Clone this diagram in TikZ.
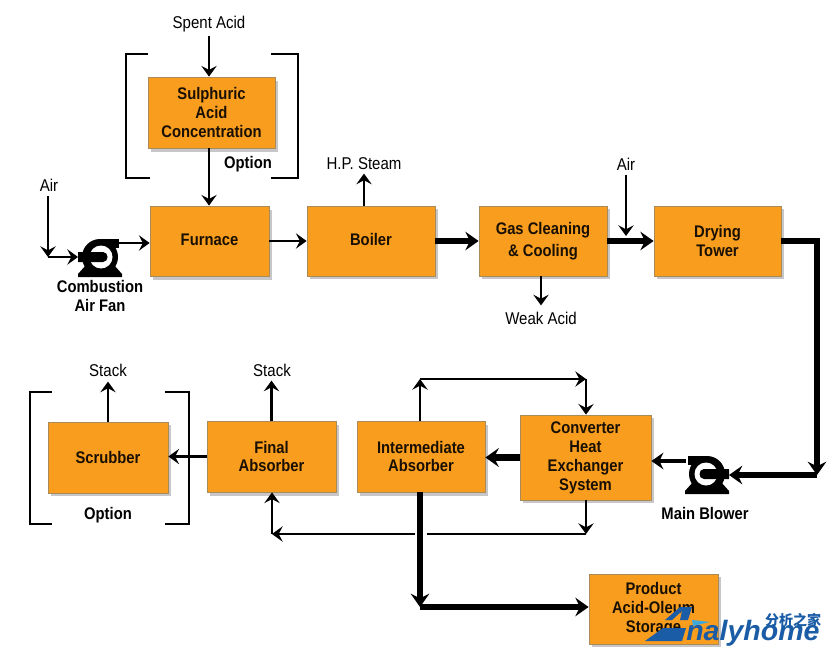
\documentclass[tikz,border=0pt]{standalone}
\usepackage{fontspec}
\setmainfont[FakeStretch=0.88]{Liberation Sans}
\newfontfamily\brandfont[FakeStretch=1.02]{Liberation Sans}
\newfontfamily\cjkfont{Noto Sans CJK SC}
\usetikzlibrary{arrows.meta,positioning}

\definecolor{unitfill}{HTML}{F99D1E}
\definecolor{unitedge}{HTML}{A98A5A}
\definecolor{markblue}{HTML}{1B5CA6}
\definecolor{markcyan}{HTML}{3FA9DC}

% blower symbol, drawn round its own centre
\newcommand{\blowersym}[2]{%
  \begin{scope}[shift={(#1)},xscale=#2]
    \fill[black] (0,0) circle (18);
    \fill[black] (0,-18) rectangle (19,-9);
    \fill[black] (-22,20) -- (22,20) -- (22,17) -- (14,8) -- (-14,8) -- (-22,17) -- cycle;
    \fill[white] (1,0) circle (11.5);
    \fill[black] (-22,-5) -- (3,-5) .. controls (9,-5) and (9,5) .. (3,5) -- (-22,5) -- cycle;
  \end{scope}}

\begin{document}
\begin{tikzpicture}[
    x=0.75pt, y=-0.75pt,
    % Stili
    unit/.style={
        rectangle, draw=unitedge, fill=unitfill, line width=0.6pt,
        inner sep=0pt, align=center,
        font=\bfseries\fontsize{12.6}{14.2}\selectfont,
        text=black!90!unitfill
    },
    label/.style={font=\fontsize{12.8}{14}\selectfont, align=center, inner sep=0pt},
    tag/.style={font=\bfseries\fontsize{12.6}{14}\selectfont, align=center, inner sep=0pt},
    flow/.style={-{Stealth[inset=3pt,length=8pt,width=11.5pt]}, line width=2pt},
    main/.style={-{Stealth[inset=3.5pt,length=10pt,width=14pt]}, line width=4.8pt},
    mid/.style={-{Stealth[inset=3pt,length=9pt,width=12.5pt]}, line width=3.6pt},
    bracket/.style={line width=2pt}
]

\useasboundingbox (0,0) rectangle (830,652);
\fill[white] (0,0) rectangle (830,652);

% Shadows
\foreach \xa/\ya/\xb/\yb in {148/78/275/149,150/207/269/277,307/206/435/276,479/206/607/276,654/206/781/276,
    48/422/168/493,207/422/336/493,357/422/485/493,520/415/651/500,589/574/718/644}
    \fill[black!22] (\xa+3,\ya+3) rectangle (\xb+3,\yb+3);

% Upper train
\node[unit, minimum width=95.25pt, minimum height=53.25pt] (conc) at (211.5,112.5) {Sulphuric\\Acid\\Concentration};
\node[unit, minimum width=89.25pt, minimum height=52.5pt] (furnace) at (209.5,241) {\raisebox{2.2pt}{Furnace}};
\node[unit, minimum width=96pt, minimum height=52.5pt] (boiler) at (371,241) {\raisebox{3pt}{Boiler}};
\node[unit, minimum width=96pt, minimum height=52.5pt] (cleaning) at (543,241) {Gas Cleaning\\[2pt]\& Cooling};
\node[unit, minimum width=95.25pt, minimum height=52.5pt] (drying) at (717.5,241) {Drying\\Tower};

% Lower train
\node[unit, minimum width=90pt, minimum height=53.25pt] (scrubber) at (108,457.5) {Scrubber};
\node[unit, minimum width=96.75pt, minimum height=53.25pt] (final) at (271.5,456.5) {Final\\Absorber};
\node[unit, minimum width=96pt, minimum height=53.25pt] (inter) at (421,456.5) {Intermediate\\Absorber};
\node[unit, minimum width=98.25pt, minimum height=63.75pt] (converter) at (585.5,457.5) {Converter\\Heat\\Exchanger\\System};
\node[unit, minimum width=96.75pt, minimum height=52.5pt] (storage) at (653.5,609) {Product\\Acid-Oleum\\Storage};

% Labels
\node[label] (spent) at (209,24) {Spent Acid};
\node[label] (airfan) at (49,185) {Air};
\node[label] (steam) at (364,164) {H.P. Steam};
\node[label] (airgas) at (626,164) {Air};
\node[label] (weak) at (541,318) {Weak Acid};
\node[label] (stackf) at (272,370) {Stack};
\node[label] (stacks) at (108,370) {Stack};
\node[tag] (opta) at (248,164) {Option};
\node[tag] (optb) at (108,515) {Option};
\node[tag] (fanlbl) at (100,296) {Combustion\\Air Fan};
\node[tag] (blowerlbl) at (705,513) {Main Blower};

% Blowers
\blowersym{100,257}{1}
\blowersym{707,474}{-1}
\coordinate (fanin) at (78,257);
\coordinate (fanout) at (119,243);
\coordinate (blowin) at (729,475);
\coordinate (blowout) at (686,461);

% Brackets
\draw[bracket] (148,54) -- (126,54) -- (126,178) -- (150,178);
\draw[bracket] (271,54) -- (298,54) -- (298,178) -- (271,178);
\draw[bracket] (52,392) -- (30,392) -- (30,524) -- (52,524);
\draw[bracket] (165,392) -- (189,392) -- (189,524) -- (165,524);

% Thin flows
\draw[flow] (spent.south) ++(0,4) -- (conc.north -| spent);
\draw[flow] (conc.south -| spent) -- (furnace.north -| spent);
\coordinate (airjoin) at (48,257);
\draw[flow] (48,196) -- (airjoin);
\draw[flow] (airjoin) -- (fanin);
\draw[flow] (fanout) -- (furnace.west |- fanout);
\draw[flow] (furnace.east) -- (boiler.west);
\draw[flow] (boiler.north -| steam) -- ++(0,-32);
\draw[flow] (cleaning.south -| weak) -- ++(0,29);
\draw[flow] (626,175) -- (626,236);
\draw[flow] (final.north) -- ++(0,-40);
\draw[flow] (scrubber.north) -- ++(0,-40);
\draw[flow] (final.west) -- (scrubber.east |- final.west);

% Heavy flows
\draw[main] (boiler.east) -- (cleaning.west);
\draw[main] (cleaning.east) -- (drying.west);
\coordinate (ductlow) at (817,475);
\draw[main] (drying.east) -- (drying.east -| ductlow) -- (ductlow);
\draw[main] (ductlow) -- (blowin);
\draw[mid] (blowout) -- (converter.east |- blowout);
\draw[main] (converter.west) -- (inter.east |- converter.west);

% Absorber loops
\coordinate (looptl) at (420,379);
\coordinate (looptr) at (586,379);
\coordinate (loopbr) at (586,534);
\coordinate (loopbl) at (272,534);
\coordinate (gapr) at (427,534);
\coordinate (gapl) at (415,534);
\draw[flow] (inter.north -| looptl) -- (looptl);
\draw[flow] (looptl) -- (looptr);
\draw[flow] (looptr) -- (converter.north -| looptr);
\draw[flow] (converter.south -| loopbr) -- (loopbr);
\draw[line width=2pt] (loopbr) -- (gapr);
\draw[flow] (gapl) -- (loopbl);
\draw[flow] (loopbl) -- (final.south -| loopbl);
\coordinate (prodcorner) at (420,607);
\draw[main] (inter.south -| prodcorner) -- (prodcorner);
\draw[main] (prodcorner) -- (storage.west |- prodcorner);

% Logo
\fill[markblue] (645,641) -- (663,628) -- (686,628) -- (682,641) -- cycle;
\fill[markblue] (665,620) -- (680,607) -- (692,607) -- (688,620) -- (680,620) -- (682,611) -- (672,620) -- cycle;
\fill[markcyan] (692,620) -- (710,622) -- (693,626) -- cycle;
\node[font=\brandfont\bfseries\itshape\fontsize{21}{22}\selectfont, text=markblue, inner sep=0pt, anchor=base west] (brand) at (686,640) {nalyhome};
\node[font=\cjkfont\bfseries\fontsize{10.5}{11}\selectfont, text=markblue, inner sep=0pt] (brandcn) at (793,620) {分析之家};

\end{tikzpicture}
\end{document}
